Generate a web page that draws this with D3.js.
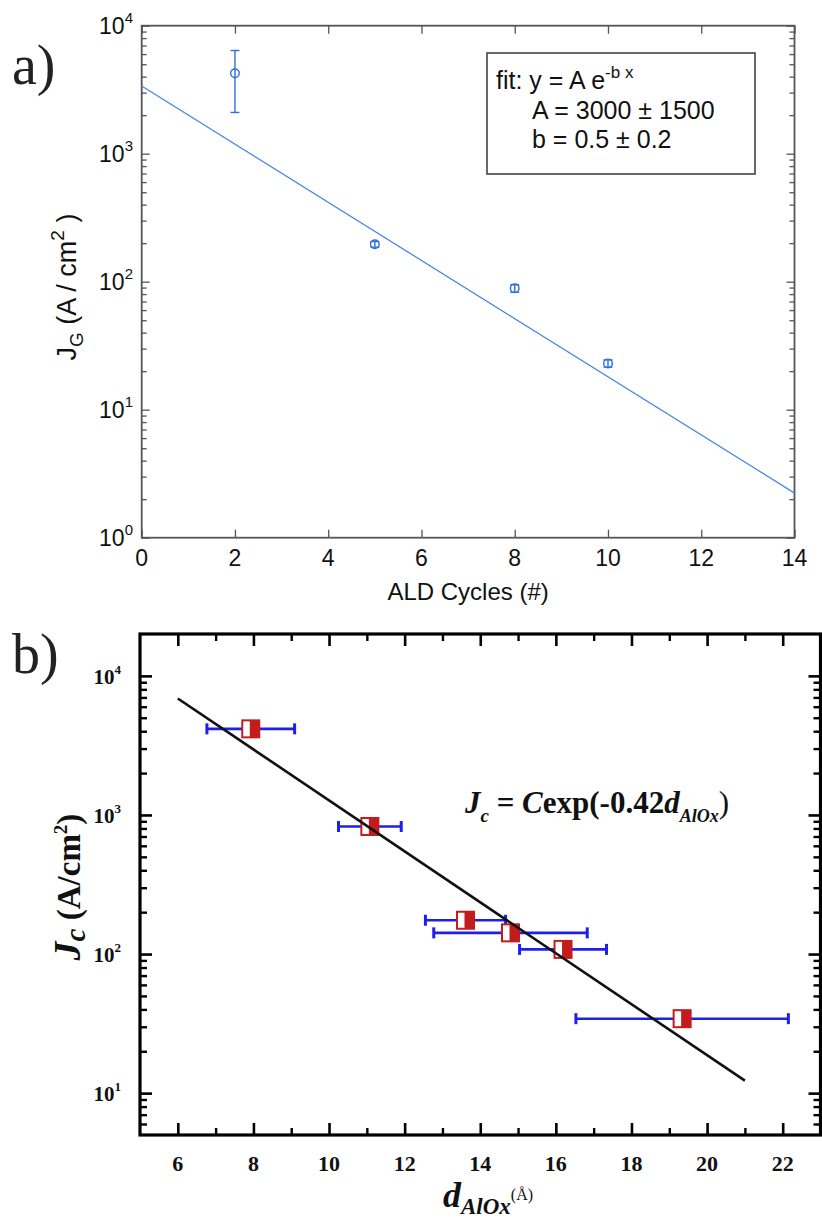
<!DOCTYPE html>
<html><head><meta charset="utf-8">
<script src="https://cdn.jsdelivr.net/npm/d3@7"></script>
<style>
html,body{margin:0;padding:0;background:#fff;}
svg{display:block;}
</style></head><body>
<svg id="fig" width="822" height="1228"></svg>
<script>
// ---- panel a: gate current density vs ALD cycles ----
const cyclesA = [2, 5, 8, 10];
const jgA = [4250, 196, 88.8, 23.0];
const jgErrA = [2150, 10, 6, 1.5];
const fitCyclesA = [0, 14];
const fitJgA = [3380, 2.23];
const xTicksA = [0, 2, 4, 6, 8, 10, 12, 14];
const yExpA = [0, 1, 2, 3, 4];
const fitTextA = ["A = 3000 \u00b1 1500", "b = 0.5 \u00b1 0.2"];

// ---- panel b: critical current density vs AlOx thickness ----
const dAlOx = [7.93, 11.08, 13.61, 14.80, 16.19, 19.34];
const jcB = [4160, 826, 175, 142, 108, 34.3];
const dErrB = [1.16, 0.83, 1.06, 2.03, 1.15, 2.81];
const fitDB = [6, 21];
const fitJcB = [6880, 12.3];
const xTicksB = [6, 8, 10, 12, 14, 16, 18, 20, 22];
const yExpB = [1, 2, 3, 4];

const svg = d3.select("#fig");
const sans = "'Liberation Sans',Arial,sans-serif";
const serif = "'Liberation Serif','Times New Roman',serif";

function minorLog(lo, hi) {
  const v = [];
  for (let e = lo; e < hi; e++) for (let k = 2; k <= 9; k++) v.push(k * Math.pow(10, e));
  return v;
}

function ticks(g, gen, transform, color, width) {
  const a = g.append("g").attr("transform", transform).call(gen);
  a.select(".domain").remove();
  a.selectAll(".tick line").attr("stroke", color).attr("stroke-width", width);
  a.selectAll(".tick text").remove();
}

// text made of styled runs: [str, {size, weight, style, dy}]
function runs(sel, parts) {
  parts.forEach(([s, o]) => {
    const t = sel.append("tspan").text(s);
    if (o.size) t.attr("font-size", o.size);
    if (o.weight) t.attr("font-weight", o.weight);
    if (o.style) t.attr("font-style", o.style);
    if (o.dy) t.attr("dy", o.dy);
  });
  return sel;
}

/* ================= panel a ================= */
const A = {l: 141.7, r: 794.5, t: 25.7, b: 537.7};
const xA = d3.scaleLinear().domain([0, 14]).range([A.l, A.r]);
const yA = d3.scaleLog().domain([1, 1e4]).range([A.b, A.t]);
const gA = svg.append("g");
const frameA = "#555";

const yMajA = yExpA.map(e => Math.pow(10, e));
ticks(gA, d3.axisLeft(yA).tickValues(yMajA).tickSize(-8).tickSizeOuter(0), `translate(${A.l},0)`, frameA, 1.3);
ticks(gA, d3.axisLeft(yA).tickValues(minorLog(0, 4)).tickSize(-5).tickSizeOuter(0), `translate(${A.l},0)`, frameA, 1.3);
ticks(gA, d3.axisRight(yA).tickValues(yMajA).tickSize(-8).tickSizeOuter(0), `translate(${A.r},0)`, frameA, 1.3);
ticks(gA, d3.axisRight(yA).tickValues(minorLog(0, 4)).tickSize(-5).tickSizeOuter(0), `translate(${A.r},0)`, frameA, 1.3);
ticks(gA, d3.axisBottom(xA).tickValues(xTicksA).tickSize(-8).tickSizeOuter(0), `translate(0,${A.b})`, frameA, 1.3);
ticks(gA, d3.axisTop(xA).tickValues(xTicksA).tickSize(-8).tickSizeOuter(0), `translate(0,${A.t})`, frameA, 1.3);

gA.append("rect").attr("x", A.l).attr("y", A.t).attr("width", A.r - A.l).attr("height", A.b - A.t)
  .attr("fill", "none").attr("stroke", frameA).attr("stroke-width", 1.8);

// tick labels
gA.selectAll("text.ya").data(yExpA).join("text")
  .attr("x", 133).attr("y", e => yA(Math.pow(10, e)) + 8)
  .attr("text-anchor", "end").attr("font-family", sans).attr("font-size", 23).attr("fill", "#111")
  .each(function(e) { runs(d3.select(this), [["10", {}], [String(e), {size: 15, dy: -11}]]); });

gA.selectAll("text.xa").data(xTicksA).join("text")
  .attr("x", d => xA(d)).attr("y", 566)
  .attr("text-anchor", "middle").attr("font-family", sans).attr("font-size", 23).attr("fill", "#111")
  .text(d => d);

gA.append("text").attr("x", (A.l + A.r) / 2).attr("y", 600).attr("text-anchor", "middle")
  .attr("font-family", sans).attr("font-size", 24).attr("fill", "#111").text("ALD Cycles (#)");

runs(gA.append("text").attr("transform", "translate(76,287) rotate(-90)").attr("text-anchor", "middle")
  .attr("font-family", sans).attr("font-size", 27).attr("fill", "#111"),
  [["J", {}], ["G", {size: 19, dy: 7}], [" (A / cm", {dy: -7}], ["2", {size: 19, dy: -12}], [" )", {dy: 12}]]);

svg.append("text").attr("x", 12).attr("y", 84).attr("font-family", serif).attr("font-size", 56)
  .attr("fill", "#222").text("a)");

// fit line
const blue = "#2e6fd8";
gA.append("path")
  .datum(fitCyclesA.map((c, i) => [c, fitJgA[i]]))
  .attr("d", d3.line().x(d => xA(d[0])).y(d => yA(d[1])))
  .attr("fill", "none").attr("stroke", "#4a88e6").attr("stroke-width", 1.3);

// data with error bars
const ptsA = gA.selectAll("g.pa").data(cyclesA.map((c, i) => ({c, v: jgA[i], e: jgErrA[i]}))).join("g");
ptsA.append("line").attr("x1", d => xA(d.c)).attr("x2", d => xA(d.c))
  .attr("y1", d => yA(d.v - d.e)).attr("y2", d => yA(d.v + d.e)).attr("stroke", blue).attr("stroke-width", 1.4);
[-1, 1].forEach(s => {
  ptsA.append("line").attr("x1", d => xA(d.c) - 4.5).attr("x2", d => xA(d.c) + 4.5)
    .attr("y1", d => yA(d.v + s * d.e)).attr("y2", d => yA(d.v + s * d.e))
    .attr("stroke", blue).attr("stroke-width", 1.4);
});
ptsA.append("circle").attr("cx", d => xA(d.c)).attr("cy", d => yA(d.v)).attr("r", 4.3)
  .attr("fill", "none").attr("stroke", blue).attr("stroke-width", 1.4);

// fit annotation box
const box = gA.append("g");
box.append("rect").attr("x", 487).attr("y", 53).attr("width", 268).attr("height", 121)
  .attr("fill", "#fff").attr("stroke", "#444").attr("stroke-width", 1.6);
runs(box.append("text").attr("x", 496).attr("y", 89).attr("font-family", sans).attr("font-size", 25).attr("fill", "#111"),
  [["fit: y = A e", {}], ["-b x", {size: 17, dy: -11}]]);
box.selectAll("text.fv").data(fitTextA).join("text")
  .attr("x", 532).attr("y", (d, i) => 119 + i * 29)
  .attr("font-family", sans).attr("font-size", 25).attr("fill", "#111").text(d => d);

/* ================= panel b ================= */
const B = {l: 140, r: 820.5, t: 634, b: 1135};
const xB = d3.scaleLinear().domain([5, 23]).range([B.l, B.r]);
const yB = d3.scaleLog().domain([5, 2e4]).range([B.b, B.t]);
const gB = svg.append("g");

const yMajB = yExpB.map(e => Math.pow(10, e));
const yMinB = [6, 7, 8, 9].concat(minorLog(1, 4));
const xMinB = d3.range(7, 23, 2);
ticks(gB, d3.axisLeft(yB).tickValues(yMajB).tickSize(-12).tickSizeOuter(0), `translate(${B.l},0)`, "#000", 2.6);
ticks(gB, d3.axisLeft(yB).tickValues(yMinB).tickSize(-7).tickSizeOuter(0), `translate(${B.l},0)`, "#000", 2.4);
ticks(gB, d3.axisRight(yB).tickValues(yMajB).tickSize(-12).tickSizeOuter(0), `translate(${B.r},0)`, "#000", 2.6);
ticks(gB, d3.axisRight(yB).tickValues(yMinB).tickSize(-7).tickSizeOuter(0), `translate(${B.r},0)`, "#000", 2.4);
ticks(gB, d3.axisBottom(xB).tickValues(xTicksB).tickSize(-12).tickSizeOuter(0), `translate(0,${B.b})`, "#000", 2.6);
ticks(gB, d3.axisBottom(xB).tickValues(xMinB).tickSize(-7).tickSizeOuter(0), `translate(0,${B.b})`, "#000", 2.4);
ticks(gB, d3.axisTop(xB).tickValues(xTicksB).tickSize(-12).tickSizeOuter(0), `translate(0,${B.t})`, "#000", 2.6);
ticks(gB, d3.axisTop(xB).tickValues(xMinB).tickSize(-7).tickSizeOuter(0), `translate(0,${B.t})`, "#000", 2.4);

gB.append("rect").attr("x", B.l).attr("y", B.t).attr("width", B.r - B.l).attr("height", B.b - B.t)
  .attr("fill", "none").attr("stroke", "#000").attr("stroke-width", 3.2);

gB.selectAll("text.yb").data(yExpB).join("text")
  .attr("x", 121).attr("y", e => yB(Math.pow(10, e)) + 8)
  .attr("text-anchor", "end").attr("font-family", serif).attr("font-weight", "bold").attr("font-size", 21).attr("fill", "#111")
  .each(function(e) { runs(d3.select(this), [["10", {}], [String(e), {size: 13, dy: -10}]]); });

gB.selectAll("text.xb").data(xTicksB).join("text")
  .attr("x", d => xB(d)).attr("y", 1171)
  .attr("text-anchor", "middle").attr("font-family", serif).attr("font-weight", "bold").attr("font-size", 22).attr("fill", "#111")
  .text(d => d);

runs(gB.append("text").attr("x", 488).attr("y", 1207).attr("text-anchor", "middle")
  .attr("font-family", serif).attr("font-weight", "bold").attr("fill", "#111").attr("font-size", 36),
  [["d", {style: "italic"}], ["AlOx", {style: "italic", size: 23, dy: 7}], ["(\u00c5)", {weight: "normal", size: 16, dy: -14}]]);

runs(gB.append("text").attr("transform", "translate(80,887) rotate(-90)").attr("text-anchor", "middle")
  .attr("font-family", serif).attr("font-weight", "bold").attr("fill", "#111").attr("font-size", 33),
  [["J", {style: "italic", size: 38}], ["c", {style: "italic", size: 29, dy: 5}], [" (A/cm", {dy: -5}], ["2", {size: 19, dy: -13}], [")", {dy: 13}]]);

runs(gB.append("text").attr("x", 465).attr("y", 813)
  .attr("font-family", serif).attr("font-weight", "bold").attr("fill", "#111").attr("font-size", 31),
  [["J", {style: "italic"}], ["c", {style: "italic", size: 19, dy: 9}], [" = ", {dy: -9}], ["C", {style: "italic"}],
   ["exp(-0.42", {}], ["d", {style: "italic"}], ["AlOx", {style: "italic", size: 18, dy: 9}], [")", {weight: "normal", dy: -9}]]);

svg.append("text").attr("x", 12).attr("y", 673).attr("font-family", serif).attr("font-size", 56)
  .attr("fill", "#222").text("b)");

// data points with horizontal error bars
const eb = "#1e1ef0", red = "#c41c1c";
const ptsB = gB.selectAll("g.pb").data(dAlOx.map((d, i) => ({d, j: jcB[i], e: dErrB[i]}))).join("g")
  .attr("transform", p => `translate(0,${yB(p.j)})`);
ptsB.append("line").attr("x1", p => xB(p.d - p.e)).attr("x2", p => xB(p.d + p.e))
  .attr("y1", 0).attr("y2", 0).attr("stroke", eb).attr("stroke-width", 2.6);
[-1, 1].forEach(s => {
  ptsB.append("line").attr("x1", p => xB(p.d + s * p.e)).attr("x2", p => xB(p.d + s * p.e))
    .attr("y1", -5.5).attr("y2", 5.5).attr("stroke", eb).attr("stroke-width", 3);
});
ptsB.append("rect").attr("x", p => xB(p.d) - 8.5).attr("y", -8.5).attr("width", 17).attr("height", 17)
  .attr("fill", "#fff").attr("stroke", red).attr("stroke-width", 2);
ptsB.append("rect").attr("x", p => xB(p.d) - 1).attr("y", -8.5).attr("width", 9.5).attr("height", 17)
  .attr("fill", red);

// exponential fit
gB.append("path")
  .datum(fitDB.map((d, i) => [d, fitJcB[i]]))
  .attr("d", d3.line().x(d => xB(d[0])).y(d => yB(d[1])))
  .attr("fill", "none").attr("stroke", "#111").attr("stroke-width", 2.6);
</script>
</body></html>
